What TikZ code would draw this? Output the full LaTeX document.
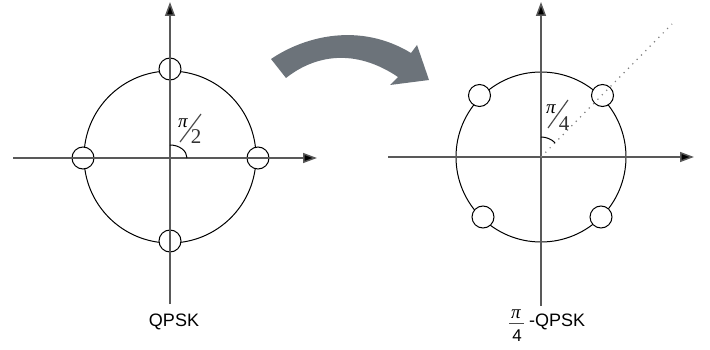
\documentclass[tikz,border=0pt]{standalone}
\usepackage{fontspec}
\setmainfont{Liberation Sans}
\newfontfamily\seriffam{Liberation Serif}
\usetikzlibrary{arrows.meta,calc}
\tikzset{
  axis/.style={draw=black!65, line width=1.5pt, -{Triangle[width=10pt,length=14pt,fill=black]}},
  bigcirc/.style={draw=black, line width=1pt, circle, inner sep=0pt},
  pt/.style={draw=black, fill=white, line width=1pt, circle, minimum size=22pt, inner sep=0pt},
  anglearc/.style={draw=black, line width=1pt},
  slash/.style={draw=black!70, line width=1.2pt},
  lbl/.style={font=\fontsize{18}{20}\selectfont, inner sep=0pt},
  pilbl/.style={font=\seriffam\itshape\fontsize{19}{20}\selectfont, inner sep=0pt},
  numlbl/.style={font=\seriffam\fontsize{21}{22}\selectfont, text=black!80, inner sep=0pt},
  dotline/.style={draw=black!50, line width=1.2pt, dash pattern=on 1.2pt off 5pt}
}
\begin{document}
\begin{tikzpicture}[x=1pt,y=-1pt]
\useasboundingbox[fill=white] (0,0) rectangle (710,350);
% ---------- left: QPSK ----------
\coordinate (lc) at (170,157);
\node[bigcirc, minimum size=172pt] (lcirc) at (lc) {};
\node[pt] (l1) at (170,69) {};
\node[pt] (l2) at (258,158) {};
\node[pt] (l3) at (170,241) {};
\node[pt] (l4) at (83,158) {};
\coordinate (lxs) at (13,158);
\coordinate (lxe) at (317,158);
\coordinate (lys) at (170,304);
\coordinate (lye) at (170,2);
\draw[axis] (lxs) -- (lxe);
\draw[axis] (lys) -- (lye);
\draw[anglearc] (187,158) arc[start angle=0, end angle=-90, x radius=17, y radius=13];
\node[pilbl] (lpi) at (183,123) {π};
\node[numlbl] (l2n) at (196,137) {2};
\coordinate (ls1) at (180,142);
\coordinate (ls2) at (201,114);
\draw[slash] (ls1) -- (ls2);
\node[lbl] (qpsk) at (174,322) {QPSK};
% ---------- arrow ----------
\fill[fill={rgb,255:red,108;green,115;blue,122}]
  (271,59) .. controls (305,36) and (360,22) .. (411,53)
  -- (417,45) -- (429,80) -- (390,85) -- (398,77)
  .. controls (355,48) and (315,55) .. (286,78) -- cycle;
% ---------- right: pi/4-QPSK ----------
\coordinate (rc) at (541,157);
\node[bigcirc, minimum size=170pt] (rcirc) at (rc) {};
\node[pt] (r1) at ($(rc)+(61.5,-61.5)$) {};
\node[pt] (r2) at ($(rc)+(-61.5,-61.5)$) {};
\node[pt] (r3) at ($(rc)+(-58,60)$) {};
\node[pt] (r4) at ($(rc)+(60,60)$) {};
\coordinate (rxs) at (388,157);
\coordinate (rxe) at (694,157);
\coordinate (rys) at (541,306);
\coordinate (rye) at (541,2);
\coordinate (rdot) at (672,24);
\draw[axis] (rxs) -- (rxe);
\draw[axis] (rys) -- (rye);
\draw[dotline] (rc) -- (rdot);
\draw[anglearc] (541,137) arc[start angle=-90, end angle=-45, radius=20];
\node[pilbl] (rpi) at (551,109) {π};
\node[numlbl] (r4n) at (564,124) {4};
\coordinate (rs1) at (548,128);
\coordinate (rs2) at (568,100);
\draw[slash] (rs1) -- (rs2);
\node[pilbl] (fpi) at (516,314) {π};
\coordinate (fb1) at (509,323);
\coordinate (fb2) at (524,323);
\draw[draw=black!70, line width=0.9pt] (fb1) -- (fb2);
\node[lbl, font=\fontsize{17}{18}\selectfont] (f4) at (517,336) {4};
\node[lbl, anchor=west] (pqpsk) at (529,322) {-QPSK};
\end{tikzpicture}
\end{document}
